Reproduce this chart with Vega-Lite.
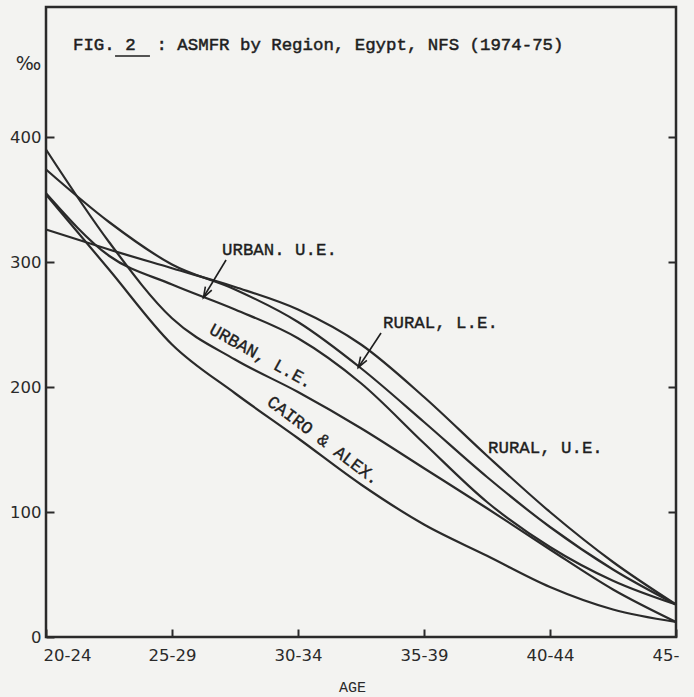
{
  "$schema": "https://vega.github.io/schema/vega-lite/v6.json",
  "width": 630,
  "height": 630,
  "autosize": "none",
  "padding": {"left": 46, "top": 7, "right": 18, "bottom": 60},
  "background": "#f3f3f1",
  "data": {"values": [{"note": 1}]},
  "config": {
    "view": {"stroke": "#2a2a2a", "strokeWidth": 2.5},
    "axis": {"grid": false, "domain": false, "tickColor": "#2a2a2a", "tickWidth": 2, "labelColor": "#2a2a2a", "labelFont": "DejaVu Sans", "labelFontSize": 16.5, "titleColor": "#2a2a2a"},
    "axisX": {"tickSize": -8, "labelPadding": 18, "titleFont": "Liberation Mono", "titleFontSize": 15, "titleFontWeight": "normal"}
  },
  "datasets": {
    "asfr": [
      {"region": "Rural U.E.", "age": 0, "asfr": 326}, {"region": "Rural U.E.", "age": 0.5, "asfr": 310}, {"region": "Rural U.E.", "age": 1, "asfr": 295}, {"region": "Rural U.E.", "age": 1.5, "asfr": 280}, {"region": "Rural U.E.", "age": 2, "asfr": 262}, {"region": "Rural U.E.", "age": 2.5, "asfr": 234}, {"region": "Rural U.E.", "age": 3, "asfr": 192}, {"region": "Rural U.E.", "age": 3.5, "asfr": 145}, {"region": "Rural U.E.", "age": 4, "asfr": 100}, {"region": "Rural U.E.", "age": 4.5, "asfr": 60}, {"region": "Rural U.E.", "age": 5, "asfr": 26},
      {"region": "Rural L.E.", "age": 0, "asfr": 374}, {"region": "Rural L.E.", "age": 0.5, "asfr": 332}, {"region": "Rural L.E.", "age": 1, "asfr": 298}, {"region": "Rural L.E.", "age": 1.5, "asfr": 278}, {"region": "Rural L.E.", "age": 2, "asfr": 252}, {"region": "Rural L.E.", "age": 2.5, "asfr": 215}, {"region": "Rural L.E.", "age": 3, "asfr": 172}, {"region": "Rural L.E.", "age": 3.5, "asfr": 128}, {"region": "Rural L.E.", "age": 4, "asfr": 88}, {"region": "Rural L.E.", "age": 4.5, "asfr": 54}, {"region": "Rural L.E.", "age": 5, "asfr": 26},
      {"region": "Urban U.E.", "age": 0, "asfr": 355}, {"region": "Urban U.E.", "age": 0.5, "asfr": 305}, {"region": "Urban U.E.", "age": 1, "asfr": 282}, {"region": "Urban U.E.", "age": 1.5, "asfr": 262}, {"region": "Urban U.E.", "age": 2, "asfr": 239}, {"region": "Urban U.E.", "age": 2.5, "asfr": 203}, {"region": "Urban U.E.", "age": 3, "asfr": 155}, {"region": "Urban U.E.", "age": 3.5, "asfr": 108}, {"region": "Urban U.E.", "age": 4, "asfr": 72}, {"region": "Urban U.E.", "age": 4.5, "asfr": 45}, {"region": "Urban U.E.", "age": 5, "asfr": 26},
      {"region": "Urban L.E.", "age": 0, "asfr": 390}, {"region": "Urban L.E.", "age": 0.5, "asfr": 316}, {"region": "Urban L.E.", "age": 1, "asfr": 255}, {"region": "Urban L.E.", "age": 1.5, "asfr": 222}, {"region": "Urban L.E.", "age": 2, "asfr": 196}, {"region": "Urban L.E.", "age": 2.5, "asfr": 167}, {"region": "Urban L.E.", "age": 3, "asfr": 135}, {"region": "Urban L.E.", "age": 3.5, "asfr": 103}, {"region": "Urban L.E.", "age": 4, "asfr": 70}, {"region": "Urban L.E.", "age": 4.5, "asfr": 38}, {"region": "Urban L.E.", "age": 5, "asfr": 12},
      {"region": "Cairo & Alex.", "age": 0, "asfr": 354}, {"region": "Cairo & Alex.", "age": 0.5, "asfr": 294}, {"region": "Cairo & Alex.", "age": 1, "asfr": 234}, {"region": "Cairo & Alex.", "age": 1.5, "asfr": 195}, {"region": "Cairo & Alex.", "age": 2, "asfr": 159}, {"region": "Cairo & Alex.", "age": 2.5, "asfr": 122}, {"region": "Cairo & Alex.", "age": 3, "asfr": 90}, {"region": "Cairo & Alex.", "age": 3.5, "asfr": 65}, {"region": "Cairo & Alex.", "age": 4, "asfr": 40}, {"region": "Cairo & Alex.", "age": 4.5, "asfr": 22}, {"region": "Cairo & Alex.", "age": 5, "asfr": 12}
    ]
  },
  "resolve": {"axis": {"y": "independent"}},
  "layer": [
    {
      "data": {"name": "asfr"},
      "mark": {"type": "line", "interpolate": "monotone", "stroke": "#2a2a2a", "strokeWidth": 2.2},
      "encoding": {
        "x": {"field": "age", "type": "quantitative", "scale": {"domain": [0, 5], "nice": false, "zero": false},
          "axis": {"values": [0, 1, 2, 3, 4, 5], "tickSize": -8, "labelPadding": 18, "labelBaseline": "top", "labelFlush": true, "labelFlushOffset": 3,
            "labelExpr": "datum.value == 0 ? '20-24' : datum.value == 1 ? '25-29' : datum.value == 2 ? '30-34' : datum.value == 3 ? '35-39' : datum.value == 4 ? '40-44' : '45-'",
            "title": "AGE", "titleFont": "Liberation Mono", "titleFontSize": 15, "titleFontWeight": "normal", "titleX": 306, "titleY": 54, "titleBaseline": "alphabetic", "titleAlign": "center"}},
        "y": {"field": "asfr", "type": "quantitative", "scale": {"domain": [0, 504], "nice": false},
          "axis": {"values": [0, 100, 200, 300, 400], "tickSize": -8, "labelPadding": 13,
            "title": "‰", "titleAngle": 0, "titleFont": "DejaVu Sans", "titleFontSize": 19, "titleFontWeight": "normal", "titleX": -18, "titleY": 56, "titleAlign": "center", "titleBaseline": "middle"}},
        "detail": {"field": "region"}
      }
    },
    {
      "data": {"name": "asfr"},
      "mark": {"type": "point", "opacity": 0},
      "encoding": {
        "x": {"field": "age", "type": "quantitative"},
        "y": {"field": "asfr", "type": "quantitative",
          "axis": {"orient": "right", "values": [100, 200, 300, 400], "labels": false, "tickSize": -8, "title": null}}
      }
    },
    {
      "mark": {"type": "text", "font": "Liberation Mono", "fontSize": 17.4, "align": "left", "baseline": "alphabetic", "color": "#1e1e1e", "stroke": "#1e1e1e", "strokeWidth": 0.5, "text": "FIG.\u00a02\u00a0\u00a0: ASMFR by Region, Egypt, NFS (1974-75)"},
      "encoding": {"x": {"datum": 0.214, "type": "quantitative"}, "y": {"datum": 469.6, "type": "quantitative", "axis": null}}
    },
    {
      "mark": {"type": "rule", "stroke": "#1e1e1e", "strokeWidth": 1.5},
      "encoding": {"x": {"datum": 0.548, "type": "quantitative"}, "x2": {"datum": 0.825}, "y": {"datum": 464.8, "type": "quantitative", "axis": null}, "y2": {"datum": 464.8}}
    },
    {
      "mark": {"type": "text", "font": "Liberation Mono", "fontSize": 17.4, "align": "left", "baseline": "alphabetic", "color": "#1e1e1e", "stroke": "#1e1e1e", "strokeWidth": 0.4, "text": "URBAN. U.E."},
      "encoding": {"x": {"datum": 1.397, "type": "quantitative"}, "y": {"datum": 305.6, "type": "quantitative", "axis": null}}
    },
    {
      "mark": {"type": "text", "font": "Liberation Mono", "fontSize": 17.4, "align": "left", "baseline": "alphabetic", "color": "#1e1e1e", "stroke": "#1e1e1e", "strokeWidth": 0.4, "text": "RURAL, L.E."},
      "encoding": {"x": {"datum": 2.675, "type": "quantitative"}, "y": {"datum": 247.2, "type": "quantitative", "axis": null}}
    },
    {
      "mark": {"type": "text", "font": "Liberation Mono", "fontSize": 17.4, "align": "left", "baseline": "alphabetic", "color": "#1e1e1e", "stroke": "#1e1e1e", "strokeWidth": 0.4, "text": "RURAL, U.E."},
      "encoding": {"x": {"datum": 3.508, "type": "quantitative"}, "y": {"datum": 147.2, "type": "quantitative", "axis": null}}
    },
    {
      "mark": {"type": "text", "font": "Liberation Mono", "fontSize": 17.4, "align": "center", "baseline": "middle", "angle": 29, "color": "#1e1e1e", "stroke": "#1e1e1e", "strokeWidth": 0.4, "text": "URBAN, L.E."},
      "encoding": {"x": {"datum": 1.706, "type": "quantitative"}, "y": {"datum": 224.4, "type": "quantitative", "axis": null}}
    },
    {
      "mark": {"type": "text", "font": "Liberation Mono", "fontSize": 17.4, "align": "center", "baseline": "middle", "angle": 37, "color": "#1e1e1e", "stroke": "#1e1e1e", "strokeWidth": 0.4, "text": "CAIRO & ALEX."},
      "encoding": {"x": {"datum": 2.2, "type": "quantitative"}, "y": {"datum": 157, "type": "quantitative", "axis": null}}
    },
    {
      "mark": {"type": "rule", "stroke": "#1e1e1e", "strokeWidth": 1.6},
      "encoding": {"x": {"datum": 1.429, "type": "quantitative"}, "x2": {"datum": 1.246}, "y": {"datum": 301.6, "type": "quantitative", "axis": null}, "y2": {"datum": 271.2}}
    },
    {
      "mark": {"type": "point", "shape": "M-0.7,1L0,-1L0.7,1", "filled": false, "stroke": "#1e1e1e", "strokeWidth": 1.6, "size": 110, "angle": 209, "opacity": 1},
      "encoding": {"x": {"datum": 1.27, "type": "quantitative"}, "y": {"datum": 275.2, "type": "quantitative", "axis": null}}
    },
    {
      "mark": {"type": "rule", "stroke": "#1e1e1e", "strokeWidth": 1.6},
      "encoding": {"x": {"datum": 2.659, "type": "quantitative"}, "x2": {"datum": 2.476}, "y": {"datum": 243.2, "type": "quantitative", "axis": null}, "y2": {"datum": 215.2}}
    },
    {
      "mark": {"type": "point", "shape": "M-0.7,1L0,-1L0.7,1", "filled": false, "stroke": "#1e1e1e", "strokeWidth": 1.6, "size": 110, "angle": 211, "opacity": 1},
      "encoding": {"x": {"datum": 2.5, "type": "quantitative"}, "y": {"datum": 219.2, "type": "quantitative", "axis": null}}
    }
  ]
}
